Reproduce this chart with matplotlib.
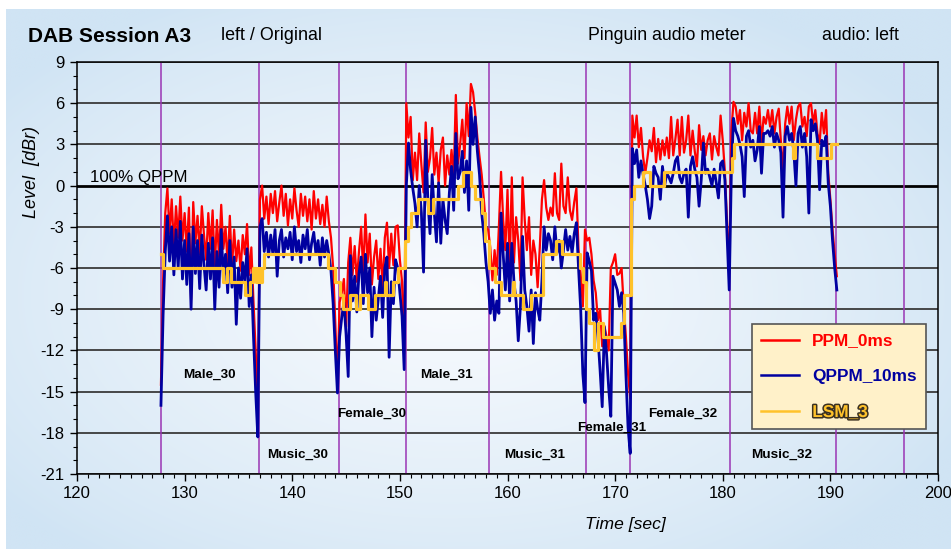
import numpy as np
import matplotlib
matplotlib.use('Agg')
import matplotlib.pyplot as plt
import matplotlib.patheffects as pe
from matplotlib.ticker import MultipleLocator

plt.rcParams['font.family'] = ['Liberation Sans', 'DejaVu Sans']
plt.rcParams['axes.unicode_minus'] = False

# ---------------- data ----------------
t_start = 127.8   # s, first sample
t_step = 0.2      # s, sample spacing

ppm_db = [
    -14.5,
    -7.0, -2.0, -0.2, -3.5, -1.0,      # 128
    -4.5, -1.5, -3.8, -0.8, -4.0,      # 129
    -2.0, -4.8, -1.6, -8.3, -1.2,      # 130
    -4.2, -2.2, -5.0, -1.5, -3.6,      # 131
    -5.4, -2.0, -4.6, -1.8, -6.0,      # 132
    -2.5, -5.2, -1.4, -4.6, -3.0,      # 133
    -5.8, -2.2, -6.0, -3.2, -5.5,      # 134
    -4.0, -6.2, -3.6, -5.0, -2.8,      # 135
    -6.5, -4.5, -8.5, -12.0, -15.8,    # 136
    -1.0, 0.0, -2.4, -0.8, -2.8,       # 137
    -0.6, -2.0, -0.4, -2.6, -1.2,      # 138
    0.0, -2.2, -0.6, -2.9, -1.0,       # 139
    -2.4, -0.2, -1.8, -3.0, -0.6,      # 140
    -2.2, -0.8, -2.6, -1.0, -3.2,      # 141
    -0.4, -2.4, -1.0, -2.8, -1.4,      # 142
    -3.0, -0.8, -2.6, -3.8, -6.0,      # 143
    -10.0, -14.4, -8.5, -7.8, -6.8,    # 144
    -10.3, -5.6, -3.8, -6.5, -4.4,     # 145
    -7.0, -4.8, -3.0, -6.4, -2.1,      # 146
    -5.6, -3.5, -7.2, -5.2, -4.0,      # 147
    -6.8, -4.6, -7.4, -3.8, -2.7,      # 148
    -6.0, -3.5, -5.8, -3.0, -2.9,      # 149
    -5.4, -7.0, -12.2, 6.0, 3.5,       # 150
    5.0, 0.4, 2.4, 0.4, 3.8,           # 151
    1.5, -0.5, 4.6, 1.0, 2.0,          # 152
    4.2, 0.8, 2.4, 0.2, 2.6,           # 153
    3.5, 0.0, 2.2, 0.8, 2.6,           # 154
    0.6, 6.6, 1.6, 3.0, 4.8,           # 155
    2.0, 6.0, 3.6, 7.4, 6.8,           # 156
    5.3, 3.5, 2.1, 0.8, -1.0,          # 157
    -3.0, -3.2, -4.5, -6.9, -4.7,      # 158
    -6.5, -3.0, 1.0, -2.5, -4.7,       # 159
    -0.3, -6.0, 0.6, -5.6, -2.3,       # 160
    -4.0, -6.9, 0.6, -2.5, -4.7,       # 161
    -2.3, -6.5, -4.0, -5.0, -7.4,      # 162
    -4.5, -1.0, 0.4, -1.6, -2.5,       # 163
    -1.6, -2.2, 0.9, -2.0, -2.5,       # 164
    1.6, -1.5, -2.0, 0.6, -1.8,        # 165
    -2.5, -1.2, -0.2, -4.7, -6.5,      # 166
    -8.8, -3.2, -4.0, -3.8, -5.0,      # 167
    -6.9, -7.8, -9.8, -9.0, -11.7,     # 168
    -10.2, -11.0, -12.0, -6.0, -5.6,   # 169
    -5.0, -6.5, -6.4, -6.0, -8.8,      # 170
    -11.0, -13.7, -15.5, 5.1, 3.5,     # 171
    5.1, 2.8, 4.2, 2.1, 0.9,           # 172
    2.0, 3.3, 2.5, 4.2, 1.7,           # 173
    3.4, 1.9, 3.3, 2.2, 3.5,           # 174
    2.0, 5.0, 2.2, 3.4, 4.8,           # 175
    2.2, 5.0, 2.4, 3.3, 5.1,           # 176
    2.2, 4.0, 2.5, 1.4, 4.4,           # 177
    2.6, 3.6, 2.2, 3.3, 3.8,           # 178
    1.9, 3.6, 2.8, 2.2, 5.1,           # 179
    3.3, 1.0, -2.7, -6.4, 4.0,         # 180
    6.1, 5.75, 4.5, 5.5, 3.3,          # 181
    5.3, 4.3, 6.0, 4.0, 3.8,           # 182
    5.3, 3.8, 5.75, 3.1, 5.0,          # 183
    4.5, 5.5, 4.3, 5.5, 3.8,           # 184
    5.0, 5.6, 3.3, 0.9, 4.5,           # 185
    5.75, 4.5, 5.75, 3.3, 4.8,         # 186
    5.75, 6.0, 4.3, 5.0, 3.6,          # 187
    5.75, 6.0, 4.5, 5.5, 3.8,          # 188
    3.1, 5.3, 3.8, 5.5, 0.9,           # 189
    -1.0, -3.2, -5.0, -6.6,            # 190
]

qppm_db = [
    -16.0,
    -9.4, -4.8, -2.2, -5.5, -3.0,      # 128
    -6.5, -3.2, -6.0, -2.6, -6.8,      # 129
    -4.0, -7.2, -3.5, -9.0, -3.0,      # 130
    -6.4, -4.0, -7.5, -3.6, -5.8,      # 131
    -7.6, -4.2, -6.8, -3.8, -9.0,      # 132
    -4.8, -7.4, -3.2, -6.8, -5.0,      # 133
    -7.8, -4.0, -7.4, -5.2, -10.1,     # 134
    -6.0, -8.2, -5.6, -7.0, -4.6,      # 135
    -8.8, -6.5, -11.0, -15.0, -18.3,   # 136
    -3.0, -2.4, -4.8, -3.4, -5.2,      # 137
    -3.6, -5.0, -3.2, -6.6, -4.0,      # 138
    -3.2, -5.2, -3.8, -4.6, -3.4,      # 139
    -5.4, -3.0, -4.8, -4.0, -5.6,      # 140
    -3.6, -4.6, -3.2, -5.4, -4.2,      # 141
    -3.4, -5.0, -4.0, -5.8, -3.8,      # 142
    -5.2, -4.0, -5.0, -6.2, -8.6,      # 143
    -12.0, -15.1, -11.0, -9.6, -8.5,   # 144
    -10.8, -13.9, -5.1, -8.4, -6.6,    # 145
    -9.2, -6.4, -5.2, -8.6, -5.0,      # 146
    -7.8, -6.0, -11.0, -7.4, -9.8,     # 147
    -8.2, -6.6, -9.6, -6.0, -5.2,      # 148
    -12.5, -7.0, -8.6, -5.4, -6.0,     # 149
    -7.8, -9.5, -13.4, 0.0, 3.1,       # 150
    1.1, -0.2, -1.3, -3.0, 0.0,        # 151
    -2.0, -6.3, 3.3, -1.0, -3.5,       # 152
    0.8, -2.0, -4.1, 0.2, -4.2,        # 153
    -1.0, -2.5, -3.5, -0.5, 1.4,       # 154
    -1.8, 3.8, 0.5, 1.0, 2.5,          # 155
    -0.5, 1.8, -1.8, 5.7, 3.0,         # 156
    5.0, 2.5, 0.8, -2.0, -3.5,         # 157
    -5.6, -7.0, -9.3, -7.6, -9.8,      # 158
    -8.4, -9.3, -2.0, -5.0, -7.6,      # 159
    -4.2, -8.4, -4.2, -7.0, -8.4,      # 160
    -11.3, -8.8, -3.7, -7.6, -8.8,     # 161
    -10.6, -7.6, -11.5, -7.8, -9.0,    # 162
    -9.8, -6.9, -3.0, -4.7, -3.5,      # 163
    -4.0, -5.4, -3.0, -4.9, -4.0,      # 164
    -6.0, -4.7, -3.2, -4.7, -3.7,      # 165
    -4.9, -3.5, -2.7, -6.0, -9.0,      # 166
    -13.7, -15.8, -4.9, -5.5, -6.2,    # 167
    -9.8, -9.3, -11.0, -13.4, -16.1,   # 168
    -10.3, -12.2, -14.7, -16.8, -6.6,  # 169
    -7.1, -7.6, -8.8, -7.8, -9.3,      # 170
    -13.7, -17.6, -19.5, 2.7, 1.6,     # 171
    2.6, 0.6, 1.8, 0.8, 0.0,           # 172
    -1.0, -2.4, -1.5, 1.4, 0.9,        # 173
    0.6, -1.0, 1.4, 0.0, 0.9,          # 174
    0.6, 0.2, 0.9, 1.8, 2.1,           # 175
    0.6, 0.2, 0.9, 1.2, -2.3,          # 176
    1.4, 2.1, 1.2, 0.6, -1.5,          # 177
    0.4, 3.1, 0.9, 1.2, 0.6,           # 178
    0.0, 1.2, 0.2, -0.9, 1.6,          # 179
    1.8, 0.4, -3.5, -7.6, 1.0,         # 180
    4.9, 4.0, 3.6, 3.0, 2.1,           # 181
    -0.8, 3.6, 4.0, 2.8, 3.3,          # 182
    1.8, 2.6, 4.3, 0.9, 3.8,           # 183
    3.8, 4.0, 3.6, 4.3, 2.8,           # 184
    3.8, 3.3, 2.4, -2.3, 3.6,          # 185
    4.3, 3.3, 3.8, 2.5, 0.0,           # 186
    3.8, 4.3, 2.8, 3.8, 2.1,           # 187
    -2.0, 4.8, 4.0, 4.5, 3.3,          # 188
    -0.3, 3.3, 2.9, 3.6, 0.2,          # 189
    -1.5, -4.0, -6.0, -7.6,            # 190
]

# LSM_3 is a step signal: level changes at these times
lsm_t = [127.8, 128.0, 133.6, 133.95, 134.35, 135.6, 136.05, 136.35, 136.65,
         136.8, 137.0, 137.15, 137.35, 143.3, 143.95, 144.4, 144.7, 145.35,
         145.95, 146.25, 147.05, 147.65, 148.6, 148.75, 149.35, 149.8, 150.45,
         150.75, 151.0, 151.65, 152.6, 153.05, 155.4, 155.85, 156.65, 156.95,
         157.6, 157.95, 158.3, 158.8, 159.4, 160.5, 160.65, 161.4, 162.2,
         163.3, 164.5, 165.1, 166.7, 167.0, 167.3, 167.6, 168.05, 168.4,
         168.85, 170.55, 170.85, 171.45, 171.8, 172.55, 173.2, 174.55, 180.9,
         181.05, 186.5, 186.75, 188.8, 190.05, 190.6]
lsm_db = [-5, -6, -7, -6, -7, -8, -7, -6, -7,
          -6, -7, -6, -5, -6, -7, -8, -9, -8,
          -9, -8, -9, -8, -7, -8, -7, -6, -4,
          -3, -2, -1, -2, -1, 0, 1, 0, -1,
          -2, -4, -6, -7, -8, -7, -8, -9, -8,
          -5, -4, -5, -6, -7, -9, -10, -12, -10,
          -11, -10, -8, -1, 0, 1, 0, 1, 2,
          3, 2, 3, 2, 3, 3]

boundary_t = [127.8, 136.95, 144.3, 150.55, 158.3, 167.3, 171.4, 180.7, 190.55, 196.85]

seg_names = ['Male_30', 'Music_30', 'Female_30', 'Male_31',
             'Music_31', 'Female_31', 'Female_32', 'Music_32']
seg_x = [132.3, 140.5, 147.4, 154.3, 162.5, 169.7, 176.3, 185.5]
seg_y = [-13.8, -19.6, -16.6, -13.8, -19.6, -17.6, -16.6, -19.6]

series_names = ['PPM_0ms', 'QPPM_10ms', 'LSM_3']
x_ticks = list(range(120, 201, 10))
y_ticks = list(range(-21, 10, 3))

# ---------------- figure ----------------
W, H = 951, 549
fig = plt.figure(figsize=(W / 100, H / 100), dpi=100)
fig.patch.set_facecolor('white')

# light blue radial gradient panel
bg = fig.add_axes([6 / W, 0, (W - 6) / W, (H - 9) / H], zorder=0)
yy, xx = np.mgrid[0:1:300j, 0:1:500j]
r = np.sqrt(((xx - 0.47) / 0.60) ** 2 + ((yy - 0.47) / 0.62) ** 2)
w = np.clip(1 - r, 0, 1) ** 0.85
edge = np.array([208, 228, 244]) / 255
centre = np.array([249, 251, 254]) / 255
img = edge + (centre - edge) * w[..., None]
bg.imshow(img, aspect='auto', extent=[0, 1, 0, 1], origin='lower', interpolation='bilinear')
bg.axis('off')

ax = fig.add_axes([77 / W, 75 / H, 861 / W, 412 / H], zorder=1)
ax.set_facecolor('none')
ax.set_xlim(120, 200)
ax.set_ylim(-21, 9)

for yv in y_ticks:
    if yv == 0:
        ax.axhline(yv, color='black', lw=2.0, zorder=1)
    else:
        ax.axhline(yv, color='#3a3a3a', lw=1.3, zorder=1)
for tb in boundary_t:
    ax.axvline(tb, color='#9a35b4', lw=1.1, zorder=1.5)

t_ppm = t_start + t_step * np.arange(len(ppm_db))
t_qppm = t_start + t_step * np.arange(len(qppm_db))
l1, = ax.plot(t_ppm, ppm_db, color='#ff0000', lw=1.6, zorder=3)
l2, = ax.plot(t_qppm, qppm_db, color='#0000a0', lw=2.0, zorder=4)
l3, = ax.plot(lsm_t, lsm_db, color='#ffc22a', lw=2.3, drawstyle='steps-post', zorder=5)

ax.set_xticks(x_ticks)
ax.set_yticks(y_ticks)
ax.xaxis.set_minor_locator(MultipleLocator(1))
ax.yaxis.set_minor_locator(MultipleLocator(1))
ax.tick_params(which='major', direction='out', length=5, width=1, labelsize=12, pad=4)
ax.tick_params(which='minor', direction='out', length=3, width=0.8)
for s in ax.spines.values():
    s.set_color('black')
    s.set_linewidth(1.1)

ax.text(121.2, 0.05, '100% QPPM', fontsize=12.2, va='bottom', ha='left', zorder=6)
for name, sx, sy in zip(seg_names, seg_x, seg_y):
    ax.text(sx, sy, name, fontsize=9.7, fontweight='bold', ha='center', va='center', zorder=6)

leg = ax.legend([l1, l2, l3], series_names, loc='upper left',
                bbox_to_anchor=(0.784, 0.364), borderaxespad=0,
                prop={'weight': 'bold', 'size': 12.4}, labelspacing=1.2,
                handlelength=2.2, handletextpad=0.75, borderpad=0.55,
                fancybox=False, framealpha=1, facecolor='#fff1c9', edgecolor='#555555')
leg.get_frame().set_linewidth(1.2)
leg.set_zorder(7)
for txt, col in zip(leg.get_texts(), ['#ff0000', '#0000a0', '#ffc22a']):
    txt.set_color(col)
leg.get_texts()[2].set_path_effects([pe.withStroke(linewidth=2.2, foreground='#3a3020')])
for h in leg.legend_handles:
    h.set_linewidth(1.8)

fig.text(28 / W, 1 - 36 / H, 'DAB Session A3', fontsize=15, fontweight='bold', va='center', ha='left')
fig.text(221 / W, 1 - 36 / H, 'left / Original', fontsize=12.9, va='center', ha='left')
fig.text(588 / W, 1 - 36 / H, 'Pinguin audio meter', fontsize=12.8, va='center', ha='left')
fig.text(822 / W, 1 - 36 / H, 'audio: left', fontsize=12.8, va='center', ha='left')
fig.text(31 / W, 1 - 172 / H, 'Level  [dBr)', fontsize=13, style='italic', rotation=90,
         va='center', ha='center')
fig.text(625 / W, 1 - 525 / H, 'Time [sec]', fontsize=12.6, style='italic', va='center', ha='center')

fig.savefig('out.png', dpi=100)
